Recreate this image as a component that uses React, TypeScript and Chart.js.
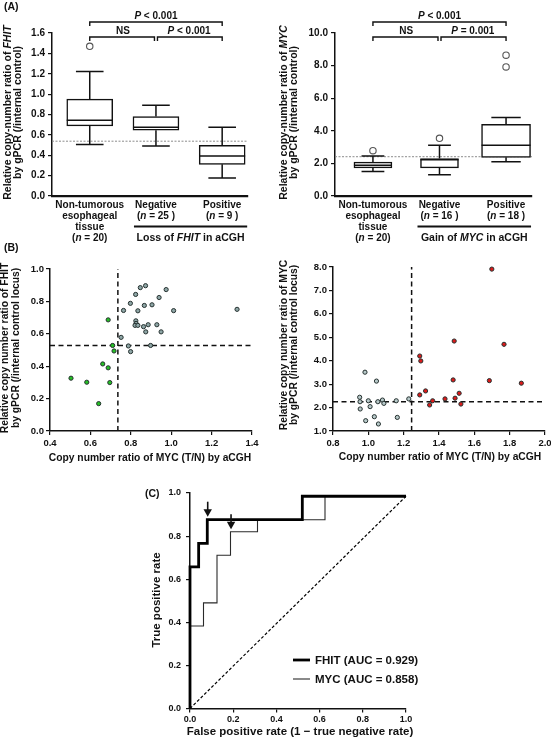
import React, { useEffect, useRef } from "react";
import { Chart, registerables } from "chart.js";

Chart.register(...registerables);

const FONT = '"Liberation Sans", Arial, Helvetica, sans-serif';
const INK = "#111111";
Chart.defaults.font.family = FONT;

// ---------------- Panel A : box plots ----------------
const groupNames = [["Non-tumorous", "esophageal", "tissue"], ["Negative"], ["Positive"]];
const fhitN = [20, 25, 9];
const fhitMin = [0.505, 0.492, 0.177];
const fhitQ1 = [0.689, 0.646, 0.311];
const fhitMedian = [0.744, 0.675, 0.393];
const fhitQ3 = [0.951, 0.78, 0.498];
const fhitMax = [1.223, 0.892, 0.675];
const fhitOutlierGroup = [0];
const fhitOutlierValue = [1.469];
const fhitCutoff = 0.538;
const fhitAxis = [0, 1.6, 0.2];

const mycN = [20, 16, 18];
const mycMin = [1.5, 1.3, 2.1];
const mycQ1 = [1.73, 1.73, 2.37];
const mycMedian = [1.89, 2.22, 3.11];
const mycQ3 = [2.08, 2.3, 4.4];
const mycMax = [2.45, 3.11, 4.81];
const mycOutlierGroup = [0, 1, 2, 2];
const mycOutlierValue = [2.78, 3.54, 8.64, 7.92];
const mycCutoff = 2.41;
const mycAxis = [0, 10, 2];

const groupAxis = [-0.57, 2.39];

// ---------------- Panel B : scatter plots ----------------
const fhitLossX = [0.504, 0.582, 0.641, 0.661, 0.688, 0.696, 0.688, 0.71, 0.717];
const fhitLossY = [0.326, 0.301, 0.169, 0.414, 0.39, 0.299, 0.686, 0.528, 0.494];
const fhitNoLossX = [0.752, 0.764, 0.788, 0.799, 0.798, 0.824, 0.825, 0.826, 0.821, 0.835, 0.835, 0.847, 0.863, 0.867, 0.873, 0.874, 0.886, 0.898, 0.905, 0.929, 0.94, 0.95, 0.975, 1.012, 1.326];
const fhitNoLossY = [0.578, 0.744, 0.525, 0.49, 0.788, 0.843, 0.68, 0.664, 0.652, 0.652, 0.742, 0.885, 0.644, 0.775, 0.897, 0.612, 0.656, 0.528, 0.779, 0.656, 0.824, 0.612, 0.873, 0.743, 0.751];
const fhitAcghCut = 0.736;
const fhitQpcrCut = 0.528;
const fhitScatterX = [0.4, 1.4, 0.2];
const fhitScatterY = [0, 1.0, 0.2];

const mycGainX = [1.291, 1.297, 1.291, 1.324, 1.347, 1.364, 1.434, 1.486, 1.48, 1.491, 1.514, 1.524, 1.699, 1.768, 1.685, 1.866];
const mycGainY = [4.2, 3.99, 2.54, 2.71, 2.11, 2.29, 2.37, 4.84, 3.18, 2.4, 2.61, 2.15, 7.91, 4.7, 3.15, 3.04];
const mycNoGainX = [0.981, 1.046, 0.951, 0.953, 1.0, 0.954, 1.01, 0.985, 1.034, 1.057, 1.054, 1.08, 1.088, 1.158, 1.164, 1.229];
const mycNoGainY = [3.51, 3.13, 2.44, 2.25, 2.29, 1.94, 2.04, 1.44, 1.61, 1.3, 2.25, 2.32, 2.18, 2.29, 1.58, 2.37];
const mycAcghCut = 1.245;
const mycQpcrCut = 2.25;
const mycScatterX = [0.8, 2.0, 0.2];
const mycScatterY = [1, 8, 1];

// ---------------- Panel C : ROC ----------------
const fhitRocFpr = [0, 0.04, 0.08, 0.52, 1.0];
const fhitRocTpr = [0, 0.657, 0.766, 0.876, 0.985];
const mycRocFpr = [0, 0.0625, 0.125, 0.1875, 0.3125, 0.625, 1.0];
const mycRocTpr = [0, 0.383, 0.49, 0.711, 0.82, 0.876, 0.985];
const chanceFpr = [0, 1.0];
const chanceTpr = [0, 0.985];
const arrowFpr = [0.082, 0.19];
const arrowTpr = [0.89, 0.832];
const rocLegend = ["FHIT (AUC = 0.929)", "MYC (AUC = 0.858)"];
const rocAxis = [0, 1, 0.2];

// ---------------- helpers ----------------
type Seg = [string, boolean?];

function drawRich(ctx: CanvasRenderingContext2D, segs: Seg[], x: number, y: number, size: number, align = "center") {
  const fonts = segs.map(([, it]) => `${it ? "italic " : ""}bold ${size}px ${FONT}`);
  const widths = segs.map((s, i) => {
    ctx.font = fonts[i];
    return ctx.measureText(s[0]).width;
  });
  const total = widths.reduce((a, b) => a + b, 0);
  let sx = align === "center" ? x - total / 2 : align === "right" ? x - total : x;
  ctx.textAlign = "left";
  ctx.textBaseline = "middle";
  ctx.fillStyle = INK;
  segs.forEach((s, i) => {
    ctx.font = fonts[i];
    ctx.fillText(s[0], sx, y);
    sx += widths[i];
  });
}

function drawRotated(ctx: CanvasRenderingContext2D, segs: Seg[], x: number, y: number, size: number) {
  ctx.save();
  ctx.translate(x, y);
  ctx.rotate(-Math.PI / 2);
  drawRich(ctx, segs, 0, 0, size);
  ctx.restore();
}

function linScale(axis: "x" | "y", range: number[], size: number, o: any = {}) {
  const show = o.showTicks !== false;
  return {
    type: "linear",
    min: range[0],
    max: range[1],
    offset: false,
    ticks: {
      display: show,
      stepSize: range[2],
      autoSkip: false,
      maxRotation: 0,
      minRotation: 0,
      callback: (v: any) => Number(v).toFixed(1),
      font: { family: FONT, size: o.fontSize ?? 10, weight: "bold" },
      color: INK,
      padding: o.pad ?? 3,
    },
    grid: { display: show, drawOnChartArea: false, drawTicks: true, tickLength: 4, color: INK, lineWidth: 1.2 },
    border: { display: true, color: INK, width: o.border ?? 1.5 },
    afterFit: (s: any) => {
      if (axis === "y") {
        s.width = size;
        s.paddingTop = 0;
        s.paddingBottom = 0;
      } else {
        s.height = size;
        s.paddingLeft = 0;
        s.paddingRight = 0;
      }
    },
  };
}

function baseOptions(W: number, H: number, area: number[], scales: any) {
  const [L, T, R, B] = area;
  return {
    responsive: false,
    animation: false,
    events: [],
    layout: { padding: { left: 0, top: T, right: W - R, bottom: 0 } },
    plugins: { legend: { display: false }, tooltip: { enabled: false } },
    scales: {
      x: { ...linScale("x", scales.x, H - B, scales.xo) },
      y: { ...linScale("y", scales.y, L, scales.yo) },
    },
  };
}

// ---------------- box plot panel ----------------
interface BoxPanel {
  W: number;
  H: number;
  area: number[];
  n: number[];
  min: number[];
  q1: number[];
  med: number[];
  q3: number[];
  max: number[];
  outG: number[];
  outV: number[];
  cutoff: number;
  axis: number[];
  boxW: number[];
  gene: string;
  event: string;
  pLower: Seg[];
  titleX: number[];
  letter?: string;
}

function makeBoxConfig(p: BoxPanel) {
  const boxSets = p.q1.map((q, i) => ({
    type: "bar",
    data: [{ x: i, y: [q, p.q3[i]] }],
    grouped: false,
    barThickness: p.boxW[i],
    backgroundColor: "#ffffff",
    borderColor: INK,
    borderWidth: 1.5,
    borderSkipped: false,
    order: 2,
  }));
  const datasets: any[] = [
    {
      type: "scatter",
      data: p.outG.map((g, i) => ({ x: g, y: p.outV[i] })),
      pointRadius: 3.2,
      pointBackgroundColor: "#ffffff",
      pointBorderColor: "#555555",
      pointBorderWidth: 1.1,
      clip: false,
      order: 0,
    },
    ...boxSets,
    {
      type: "line",
      data: [
        { x: groupAxis[0], y: p.cutoff },
        { x: groupAxis[1], y: p.cutoff },
      ],
      borderColor: "#8c8c8c",
      borderWidth: 1,
      borderDash: [2, 1.5],
      pointRadius: 0,
      order: 3,
    },
  ];
  const parts = {
    id: "boxparts",
    afterDatasetsDraw(chart: any) {
      const { ctx, scales } = chart;
      const x = scales.x, y = scales.y;
      ctx.save();
      ctx.strokeStyle = INK;
      ctx.lineWidth = 1.5;
      p.med.forEach((m, i) => {
        const cx = x.getPixelForValue(i);
        const hw = p.boxW[i] / 2;
        const cw = p.boxW[i] * 0.3;
        const yq1 = y.getPixelForValue(p.q1[i]);
        const yq3 = y.getPixelForValue(p.q3[i]);
        const ymin = y.getPixelForValue(p.min[i]);
        const ymax = y.getPixelForValue(p.max[i]);
        const ym = y.getPixelForValue(m);
        ctx.beginPath();
        ctx.moveTo(cx, yq3);
        ctx.lineTo(cx, ymax);
        ctx.moveTo(cx - cw, ymax);
        ctx.lineTo(cx + cw, ymax);
        ctx.moveTo(cx, yq1);
        ctx.lineTo(cx, ymin);
        ctx.moveTo(cx - cw, ymin);
        ctx.lineTo(cx + cw, ymin);
        ctx.moveTo(cx - hw, ym);
        ctx.lineTo(cx + hw, ym);
        ctx.stroke();
      });
      ctx.restore();
    },
    afterDraw(chart: any) {
      const { ctx, scales, chartArea } = chart;
      const x = scales.x;
      const T = chartArea.top;
      const px = (i: number) => x.getPixelForValue(i);
      ctx.save();
      ctx.strokeStyle = INK;
      ctx.lineWidth = 1.4;
      const bracket = (x1: number, x2: number, yy: number) => {
        ctx.beginPath();
        ctx.moveTo(x1, yy + 4);
        ctx.lineTo(x1, yy);
        ctx.lineTo(x2, yy);
        ctx.lineTo(x2, yy + 4);
        ctx.stroke();
      };
      bracket(px(0), px(2), T - 11);
      bracket(px(0), px(1) - 1.5, T + 4);
      bracket(px(1) + 1.5, px(2), T + 4);
      drawRich(ctx, [["P", true], [" < 0.001"]], (px(0) + px(2)) / 2, T - 17, 10);
      drawRich(ctx, [["NS"]], (px(0) + px(1)) / 2, T - 1.5, 10);
      drawRich(ctx, p.pLower, (px(1) + px(2)) / 2, T - 1.5, 10);

      // y title
      const cy = (chartArea.top + chartArea.bottom) / 2 - 2;
      drawRotated(ctx, [["Relative copy-number ratio of "], [p.gene, true]], p.titleX[0], cy, 10.5);
      drawRotated(ctx, [["by gPCR (/internal control)"]], p.titleX[1], cy, 10.5);

      // group labels
      const rows = [205, 216.5, 227, 238];
      groupNames.forEach((names, i) => {
        names.forEach((t, k) => drawRich(ctx, [[t]], px(i), rows[k], 10));
        drawRich(ctx, [["("], ["n", true], [i === 0 ? ` = ${p.n[i]})` : ` = ${p.n[i]} )`]], px(i), rows[names.length], 10);
      });
      const lx1 = px(1) - 22;
      const lx2 = px(2) + 25;
      ctx.lineWidth = 2.2;
      ctx.beginPath();
      ctx.moveTo(lx1, 226.5);
      ctx.lineTo(lx2, 226.5);
      ctx.stroke();
      drawRich(ctx, [[`${p.event} of `], [p.gene, true], [" in aCGH"]], (lx1 + lx2) / 2, 238, 10.5);
      if (p.letter) drawRich(ctx, [[p.letter]], 4, 7, 10.5, "left");
      ctx.restore();
    },
  };
  return {
    type: "bar",
    data: { datasets },
    options: baseOptions(p.W, p.H, p.area, {
      x: groupAxis.concat([1]),
      xo: { showTicks: false, border: 2.2 },
      y: p.axis,
      yo: { fontSize: 10, pad: 3 },
    }),
    plugins: [parts],
  };
}

// ---------------- scatter panel ----------------
interface ScatterPanel {
  W: number;
  H: number;
  area: number[];
  posX: number[];
  posY: number[];
  negX: number[];
  negY: number[];
  posColor: string;
  negColor: string;
  acghCut: number;
  qpcrCut: number;
  xr: number[];
  yr: number[];
  gene: string;
  titleX: number[];
  titleY: number;
  xTitle: number[];
  letter?: string;
}

function makeScatterConfig(p: ScatterPanel) {
  const pts = (xs: number[], ys: number[], fill: string) => ({
    type: "scatter",
    data: xs.map((v, i) => ({ x: v, y: ys[i] })),
    pointRadius: 2.1,
    pointBackgroundColor: fill,
    pointBorderColor: "#25302f",
    pointBorderWidth: 1,
    clip: false,
  });
  const dash = (data: any[]) => ({
    type: "line",
    data,
    borderColor: INK,
    borderWidth: 1.5,
    borderDash: [5, 3.5],
    pointRadius: 0,
    fill: false,
    clip: false,
  });
  const datasets = [
    pts(p.posX, p.posY, p.posColor),
    pts(p.negX, p.negY, p.negColor),
    dash([
      { x: p.acghCut, y: p.yr[0] },
      { x: p.acghCut, y: p.yr[1] },
    ]),
    dash([
      { x: p.xr[0], y: p.qpcrCut },
      { x: p.xr[1], y: p.qpcrCut },
    ]),
  ];
  const labels = {
    id: "scatterlabels",
    afterDraw(chart: any) {
      const { ctx } = chart;
      ctx.save();
      drawRotated(ctx, [[`Relative copy number ratio of ${p.gene}`]], p.titleX[0], p.titleY, 10.3);
      drawRotated(ctx, [["by gPCR (/internal control locus)"]], p.titleX[1], p.titleY, 10.3);
      drawRich(ctx, [["Copy number ratio of MYC (T/N) by aCGH"]], p.xTitle[0], p.xTitle[1], 10.3);
      if (p.letter) drawRich(ctx, [[p.letter]], 4, 8.5, 10.5, "left");
      ctx.restore();
    },
  };
  return {
    type: "scatter",
    data: { datasets },
    options: baseOptions(p.W, p.H, p.area, {
      x: p.xr,
      xo: { fontSize: 9.5, pad: 3 },
      y: p.yr,
      yo: { fontSize: 9.5, pad: 2 },
    }),
    plugins: [labels],
  };
}

// ---------------- ROC panel ----------------
function makeRocConfig() {
  const W = 331, H = 273;
  const area = [70, 23, 286, 238.5];
  const line = (xs: number[], ys: number[], width: number, color: string, extra: any = {}) => ({
    type: "line",
    data: xs.map((v, i) => ({ x: v, y: ys[i] })),
    borderColor: color,
    borderWidth: width,
    pointRadius: 0,
    tension: 0,
    fill: false,
    clip: false,
    borderCapStyle: "butt",
    borderJoinStyle: "miter",
    ...extra,
  });
  const datasets = [
    line(fhitRocFpr, fhitRocTpr, 2.8, "#000000", { stepped: "after" }),
    line(mycRocFpr, mycRocTpr, 1.1, "#2a2a2a", { stepped: "after" }),
    line(chanceFpr, chanceTpr, 1.2, "#000000", { borderDash: [3, 2] }),
  ];
  const labels = {
    id: "roclabels",
    afterDraw(chart: any) {
      const { ctx, scales } = chart;
      const x = scales.x, y = scales.y;
      ctx.save();
      // arrows
      ctx.fillStyle = INK;
      ctx.strokeStyle = INK;
      arrowFpr.forEach((f, i) => {
        const ax = x.getPixelForValue(f);
        const tip = y.getPixelForValue(arrowTpr[i]);
        ctx.lineWidth = 1.6;
        ctx.beginPath();
        ctx.moveTo(ax, tip - 15);
        ctx.lineTo(ax, tip - 6);
        ctx.stroke();
        ctx.beginPath();
        ctx.moveTo(ax - 4.2, tip - 7.5);
        ctx.lineTo(ax + 4.2, tip - 7.5);
        ctx.lineTo(ax, tip);
        ctx.closePath();
        ctx.fill();
      });
      // legend
      const ly = [190, 209];
      const lw = [2.8, 1.1];
      rocLegend.forEach((t, i) => {
        ctx.strokeStyle = i === 0 ? "#000" : "#2a2a2a";
        ctx.lineWidth = lw[i];
        ctx.beginPath();
        ctx.moveTo(173, ly[i]);
        ctx.lineTo(190, ly[i]);
        ctx.stroke();
        drawRich(ctx, [[t]], 195, ly[i] + 0.5, 11.5, "left");
      });
      drawRotated(ctx, [["True positive rate"]], 37, 130, 11.5);
      drawRich(ctx, [["False positive rate (1 \u2212 true negative rate)"]], 180, 262, 11.5);
      drawRich(ctx, [["(C)"]], 25, 24, 10.5, "left");
      ctx.restore();
    },
  };
  return {
    type: "line",
    data: { datasets },
    options: baseOptions(W, H, area, {
      x: rocAxis,
      xo: { fontSize: 9, pad: 2 },
      y: rocAxis,
      yo: { fontSize: 9, pad: 5 },
    }),
    plugins: [labels],
  };
}

// ---------------- components ----------------
function ChartCanvas({ left, top, w, h, make }: { left: number; top: number; w: number; h: number; make: () => any }) {
  const ref = useRef<HTMLCanvasElement>(null);
  useEffect(() => {
    const chart = new Chart(ref.current as HTMLCanvasElement, make());
    return () => chart.destroy();
  }, []);
  return (
    <canvas
      ref={ref}
      width={w}
      height={h}
      style={{ position: "absolute", left, top, width: w, height: h, display: "block" }}
    />
  );
}

export default function App() {
  return (
    <div style={{ position: "absolute", left: 0, top: 0, width: 551, height: 743, background: "#ffffff", overflow: "hidden" }}>
      <ChartCanvas
        left={0}
        top={0}
        w={275}
        h={244}
        make={() =>
          makeBoxConfig({
            W: 275,
            H: 244,
            area: [52, 33, 248, 196],
            n: fhitN,
            min: fhitMin,
            q1: fhitQ1,
            med: fhitMedian,
            q3: fhitQ3,
            max: fhitMax,
            outG: fhitOutlierGroup,
            outV: fhitOutlierValue,
            cutoff: fhitCutoff,
            axis: fhitAxis,
            boxW: [46, 46, 46],
            gene: "FHIT",
            event: "Loss",
            pLower: [["P", true], [" < 0.001"]],
            titleX: [8.5, 18.5],
            letter: "(A)",
          })
        }
      />
      <ChartCanvas
        left={275}
        top={0}
        w={276}
        h={244}
        make={() =>
          makeBoxConfig({
            W: 276,
            H: 244,
            area: [60, 33, 257, 196],
            n: mycN,
            min: mycMin,
            q1: mycQ1,
            med: mycMedian,
            q3: mycQ3,
            max: mycMax,
            outG: mycOutlierGroup,
            outV: mycOutlierValue,
            cutoff: mycCutoff,
            axis: mycAxis,
            boxW: [38, 38, 49],
            gene: "MYC",
            event: "Gain",
            pLower: [["P", true], [" = 0.001"]],
            titleX: [9.5, 19.5],
          })
        }
      />
      <ChartCanvas
        left={0}
        top={240}
        w={275}
        h={227}
        make={() =>
          makeScatterConfig({
            W: 275,
            H: 227,
            area: [50, 29, 252, 191],
            posX: fhitLossX,
            posY: fhitLossY,
            negX: fhitNoLossX,
            negY: fhitNoLossY,
            posColor: "#25c025",
            negColor: "#8ea6a6",
            acghCut: fhitAcghCut,
            qpcrCut: fhitQpcrCut,
            xr: fhitScatterX,
            yr: fhitScatterY,
            gene: "FHIT",
            titleX: [5.5, 16.5],
            titleY: 108,
            xTitle: [150, 218],
            letter: "(B)",
          })
        }
      />
      <ChartCanvas
        left={275}
        top={240}
        w={276}
        h={227}
        make={() =>
          makeScatterConfig({
            W: 276,
            H: 227,
            area: [58, 27, 270, 191],
            posX: mycGainX,
            posY: mycGainY,
            negX: mycNoGainX,
            negY: mycNoGainY,
            posColor: "#dc1a1a",
            negColor: "#b7c9c9",
            acghCut: mycAcghCut,
            qpcrCut: mycQpcrCut,
            xr: mycScatterX,
            yr: mycScatterY,
            gene: "MYC",
            titleX: [9, 19],
            titleY: 105,
            xTitle: [165, 217],
          })
        }
      />
      <ChartCanvas left={120} top={470} w={331} h={273} make={makeRocConfig} />
    </div>
  );
}
